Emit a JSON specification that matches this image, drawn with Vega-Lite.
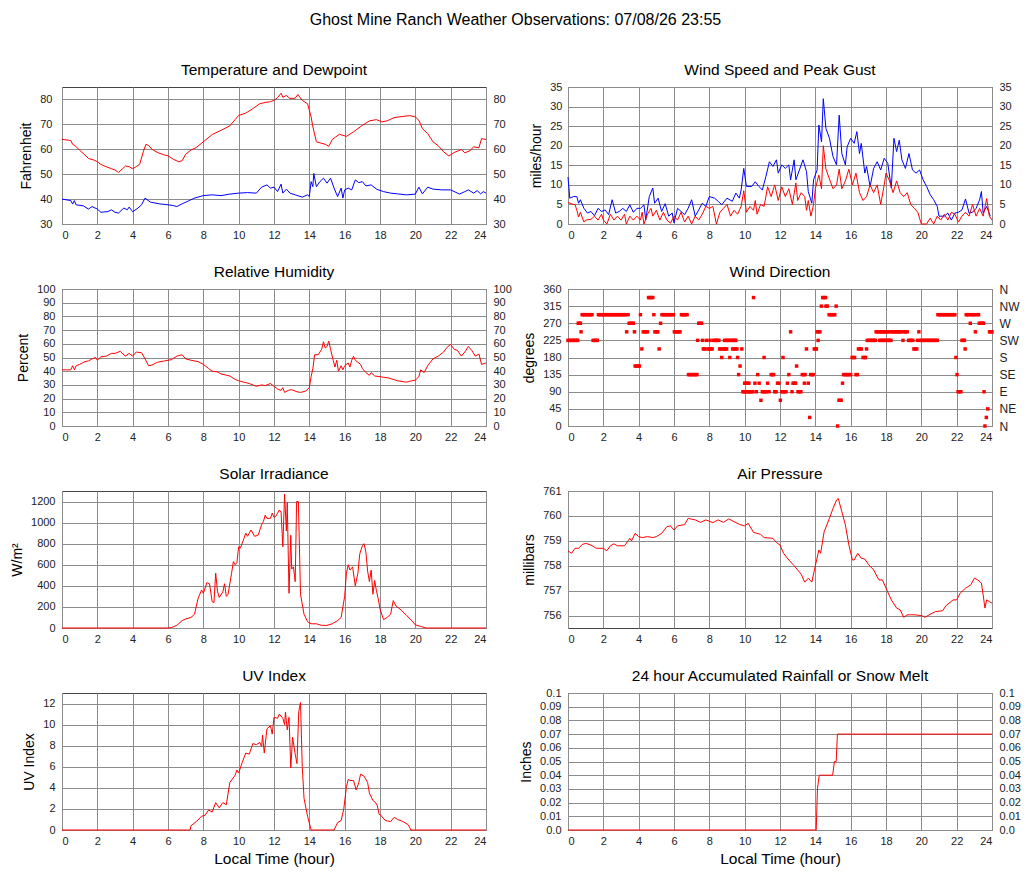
{
  "$schema": "https://vega.github.io/schema/vega-lite/v6.json",
  "background": "white",
  "padding": {"left": 10, "top": 12, "right": 10, "bottom": 8},
  "title": {"text": "Ghost Mine Ranch Weather Observations: 07/08/26 23:55", "fontSize": 16, "fontWeight": "normal", "anchor": "middle", "offset": 34, "color": "#000"},
  "datasets": {
    "temp": [
      {"t":0,"v":64},{"t":0.5,"v":63.5},{"t":0.6,"v":62},{"t":0.75,"v":61.4},{"t":1,"v":59.6},{"t":1.3,"v":57.7},{"t":1.5,"v":56.3},{"t":1.8,"v":55.7},{"t":2,"v":55},{"t":2.2,"v":53.9},{"t":2.5,"v":53},{"t":2.8,"v":52.2},{"t":3,"v":51.7},{"t":3.2,"v":50.7},{"t":3.4,"v":52},{"t":3.6,"v":53.3},{"t":3.8,"v":53},{"t":4,"v":52.2},{"t":4.2,"v":53},{"t":4.4,"v":54},{"t":4.6,"v":59},{"t":4.75,"v":62},{"t":4.9,"v":61.5},{"t":5.1,"v":60},{"t":5.4,"v":58.7},{"t":5.8,"v":57.7},{"t":6,"v":57.4},{"t":6.3,"v":56},{"t":6.6,"v":55},{"t":6.8,"v":55.4},{"t":7,"v":58},{"t":7.3,"v":59.7},{"t":7.6,"v":60.7},{"t":8,"v":63},{"t":8.5,"v":65.9},{"t":9,"v":67.6},{"t":9.5,"v":69.4},{"t":9.8,"v":71.9},{"t":10,"v":73.6},{"t":10.4,"v":74.5},{"t":10.8,"v":76.3},{"t":11.2,"v":78.3},{"t":11.5,"v":78.8},{"t":11.8,"v":79.1},{"t":12,"v":79.6},{"t":12.2,"v":80.7},{"t":12.4,"v":82.5},{"t":12.5,"v":80.9},{"t":12.7,"v":81.6},{"t":12.9,"v":80.4},{"t":13.2,"v":80.5},{"t":13.35,"v":82},{"t":13.6,"v":79.6},{"t":13.9,"v":78.3},{"t":14.1,"v":73},{"t":14.2,"v":69},{"t":14.4,"v":63},{"t":14.6,"v":62.6},{"t":14.9,"v":62},{"t":15.1,"v":61.2},{"t":15.3,"v":63.9},{"t":15.5,"v":65},{"t":15.7,"v":66},{"t":16.1,"v":65.2},{"t":16.5,"v":67},{"t":17,"v":69.6},{"t":17.4,"v":71.4},{"t":17.8,"v":71.9},{"t":18.1,"v":71},{"t":18.4,"v":71.4},{"t":18.8,"v":72.7},{"t":19.3,"v":73.2},{"t":19.7,"v":73.5},{"t":20,"v":73},{"t":20.2,"v":71.6},{"t":20.4,"v":68.3},{"t":20.7,"v":66.3},{"t":21,"v":63},{"t":21.3,"v":61.4},{"t":21.6,"v":59},{"t":21.9,"v":57.3},{"t":22.2,"v":58.7},{"t":22.6,"v":59.9},{"t":22.8,"v":58.6},{"t":23.1,"v":59.4},{"t":23.3,"v":61},{"t":23.6,"v":60.6},{"t":23.75,"v":64.3},{"t":24,"v":63.9}
    ],
    "dew": [
      {"t":0,"v":40},{"t":0.5,"v":39.4},{"t":0.6,"v":38},{"t":0.7,"v":39.4},{"t":0.8,"v":37.7},{"t":1.2,"v":37.3},{"t":1.5,"v":36},{"t":1.7,"v":37},{"t":2,"v":36},{"t":2.2,"v":34.7},{"t":2.6,"v":35},{"t":2.8,"v":35.7},{"t":3,"v":34.7},{"t":3.2,"v":34.4},{"t":3.5,"v":36.4},{"t":3.7,"v":35.7},{"t":3.8,"v":36.8},{"t":4,"v":34.9},{"t":4.3,"v":36.4},{"t":4.5,"v":37.7},{"t":4.7,"v":40.4},{"t":5,"v":38.8},{"t":5.5,"v":38.1},{"t":6,"v":37.7},{"t":6.3,"v":37.4},{"t":6.5,"v":37},{"t":6.8,"v":38.1},{"t":7.2,"v":39.4},{"t":7.5,"v":40.4},{"t":8,"v":41.4},{"t":8.5,"v":41.7},{"t":9,"v":41.4},{"t":9.5,"v":42},{"t":10,"v":42.4},{"t":10.5,"v":42.6},{"t":11,"v":42.4},{"t":11.3,"v":44.8},{"t":11.6,"v":45.7},{"t":11.8,"v":44.4},{"t":12,"v":44.8},{"t":12.2,"v":43},{"t":12.4,"v":46},{"t":12.5,"v":42.4},{"t":12.7,"v":44},{"t":12.9,"v":42.4},{"t":13.2,"v":41.7},{"t":13.6,"v":40.8},{"t":13.9,"v":41.7},{"t":14,"v":41},{"t":14.1,"v":47},{"t":14.2,"v":45},{"t":14.25,"v":50.3},{"t":14.4,"v":45},{"t":14.6,"v":47},{"t":14.8,"v":48.4},{"t":15,"v":46.4},{"t":15.2,"v":48.4},{"t":15.4,"v":44.4},{"t":15.6,"v":41},{"t":15.8,"v":44.4},{"t":15.9,"v":40.4},{"t":16,"v":43.7},{"t":16.2,"v":44.4},{"t":16.4,"v":43.7},{"t":16.6,"v":47.7},{"t":16.8,"v":46.6},{"t":17,"v":47},{"t":17.2,"v":45.3},{"t":17.5,"v":45.7},{"t":17.8,"v":44},{"t":18.2,"v":43},{"t":18.6,"v":42.4},{"t":19,"v":42.1},{"t":19.5,"v":41.7},{"t":20,"v":42},{"t":20.2,"v":44.8},{"t":20.4,"v":42.1},{"t":20.7,"v":44.8},{"t":21,"v":44},{"t":21.5,"v":43.7},{"t":22,"v":43.7},{"t":22.5,"v":42},{"t":22.8,"v":43},{"t":23,"v":43.7},{"t":23.3,"v":42.4},{"t":23.5,"v":43.4},{"t":23.7,"v":42.1},{"t":23.85,"v":43},{"t":24,"v":42.4}
    ],
    "gust": [
      {"t":0,"v":12},{"t":0.1,"v":6.6},{"t":0.3,"v":7},{"t":0.5,"v":7},{"t":0.6,"v":5.3},{"t":0.7,"v":6.2},{"t":0.9,"v":4},{"t":1.1,"v":2.8},{"t":1.3,"v":3.2},{"t":1.5,"v":2.1},{"t":1.7,"v":4},{"t":1.9,"v":3.2},{"t":2.1,"v":3.6},{"t":2.3,"v":2.4},{"t":2.5,"v":6.2},{"t":2.7,"v":2.8},{"t":2.9,"v":3.2},{"t":3.1,"v":4},{"t":3.3,"v":3.2},{"t":3.5,"v":4.9},{"t":3.7,"v":3},{"t":3.9,"v":4},{"t":4.1,"v":4},{"t":4.3,"v":4.9},{"t":4.4,"v":1},{"t":4.6,"v":7},{"t":4.8,"v":9.2},{"t":4.9,"v":5.3},{"t":5.1,"v":6.6},{"t":5.3,"v":3.2},{"t":5.5,"v":5.2},{"t":5.7,"v":2},{"t":5.9,"v":2.8},{"t":6,"v":0.3},{"t":6.2,"v":4},{"t":6.4,"v":3.2},{"t":6.6,"v":2.4},{"t":6.8,"v":4},{"t":7,"v":6.2},{"t":7.2,"v":2},{"t":7.4,"v":3.6},{"t":7.6,"v":5.3},{"t":7.8,"v":4.5},{"t":8,"v":7},{"t":8.3,"v":6.6},{"t":8.5,"v":5.8},{"t":8.7,"v":4.9},{"t":9,"v":6.6},{"t":9.3,"v":5.8},{"t":9.5,"v":7.9},{"t":9.7,"v":6.6},{"t":9.8,"v":8.7},{"t":9.95,"v":14.2},{"t":10.1,"v":9.6},{"t":10.4,"v":9.6},{"t":10.6,"v":10.8},{"t":10.8,"v":9.6},{"t":11,"v":8.7},{"t":11.2,"v":12.1},{"t":11.4,"v":15.9},{"t":11.6,"v":14.7},{"t":11.8,"v":16.4},{"t":11.9,"v":13},{"t":12.1,"v":15.1},{"t":12.3,"v":14.2},{"t":12.5,"v":15.1},{"t":12.6,"v":11.3},{"t":12.8,"v":16.4},{"t":12.9,"v":11.3},{"t":13.1,"v":13.8},{"t":13.3,"v":16.4},{"t":13.5,"v":13.4},{"t":13.6,"v":8.3},{"t":13.8,"v":5.3},{"t":13.9,"v":11.3},{"t":14.1,"v":13.8},{"t":14.2,"v":25.3},{"t":14.35,"v":21},{"t":14.45,"v":32},{"t":14.6,"v":24.4},{"t":14.8,"v":21.9},{"t":15,"v":17.2},{"t":15.2,"v":15.1},{"t":15.35,"v":27.8},{"t":15.5,"v":18},{"t":15.7,"v":15.1},{"t":15.8,"v":19.7},{"t":16,"v":21.9},{"t":16.2,"v":20.6},{"t":16.35,"v":23.6},{"t":16.5,"v":18},{"t":16.6,"v":20.6},{"t":16.8,"v":13},{"t":16.9,"v":14.7},{"t":17.1,"v":9.6},{"t":17.3,"v":14.2},{"t":17.5,"v":15.9},{"t":17.7,"v":13.8},{"t":17.9,"v":16.8},{"t":18.1,"v":15.5},{"t":18.3,"v":9.2},{"t":18.45,"v":21.9},{"t":18.6,"v":18.5},{"t":18.75,"v":21.4},{"t":18.9,"v":16.4},{"t":19.1,"v":14.2},{"t":19.3,"v":18},{"t":19.5,"v":13.8},{"t":19.7,"v":13},{"t":19.9,"v":13.8},{"t":20.1,"v":11.3},{"t":20.3,"v":9.6},{"t":20.5,"v":7.5},{"t":20.7,"v":6.2},{"t":20.9,"v":4.5},{"t":21,"v":2},{"t":21.3,"v":2},{"t":21.5,"v":2.8},{"t":21.7,"v":1},{"t":21.9,"v":2.8},{"t":22.1,"v":3},{"t":22.3,"v":3.6},{"t":22.5,"v":6.4},{"t":22.7,"v":2.8},{"t":22.9,"v":3},{"t":23.1,"v":4},{"t":23.3,"v":6.2},{"t":23.4,"v":8.3},{"t":23.5,"v":2.8},{"t":23.7,"v":4.5},{"t":23.9,"v":2}
    ],
    "speed": [
      {"t":0,"v":5.5},{"t":0.3,"v":5},{"t":0.4,"v":5},{"t":0.5,"v":3.5},{"t":0.6,"v":1.8},{"t":0.7,"v":3},{"t":0.9,"v":0.5},{"t":1,"v":1},{"t":1.3,"v":1.2},{"t":1.5,"v":2},{"t":1.7,"v":1},{"t":1.9,"v":2.5},{"t":2,"v":1},{"t":2.2,"v":0},{"t":2.4,"v":2.5},{"t":2.6,"v":1},{"t":2.8,"v":2},{"t":3,"v":1},{"t":3.2,"v":2.5},{"t":3.3,"v":0},{"t":3.5,"v":2},{"t":3.7,"v":1},{"t":3.9,"v":2},{"t":4.1,"v":1},{"t":4.2,"v":3},{"t":4.3,"v":0},{"t":4.5,"v":2.5},{"t":4.7,"v":4},{"t":4.8,"v":2},{"t":5,"v":3.5},{"t":5.2,"v":1},{"t":5.4,"v":3},{"t":5.6,"v":1},{"t":5.8,"v":0.2},{"t":6,"v":2},{"t":6.2,"v":1},{"t":6.4,"v":3},{"t":6.6,"v":0.5},{"t":6.8,"v":2},{"t":7,"v":0},{"t":7.2,"v":2},{"t":7.4,"v":1},{"t":7.6,"v":2.5},{"t":7.8,"v":4.5},{"t":8,"v":4},{"t":8.2,"v":4.5},{"t":8.4,"v":0},{"t":8.6,"v":3},{"t":8.8,"v":4},{"t":9,"v":5},{"t":9.2,"v":2},{"t":9.4,"v":3.5},{"t":9.6,"v":2.5},{"t":9.8,"v":4.5},{"t":9.95,"v":8.5},{"t":10.1,"v":3},{"t":10.3,"v":4.5},{"t":10.5,"v":3.5},{"t":10.6,"v":6},{"t":10.7,"v":2.5},{"t":10.9,"v":5},{"t":11.1,"v":4.5},{"t":11.3,"v":9.5},{"t":11.5,"v":7},{"t":11.7,"v":10},{"t":11.9,"v":6},{"t":12.1,"v":9.5},{"t":12.3,"v":7},{"t":12.5,"v":9},{"t":12.7,"v":5},{"t":12.9,"v":10.5},{"t":13,"v":6},{"t":13.2,"v":8},{"t":13.4,"v":7},{"t":13.5,"v":3.5},{"t":13.6,"v":6},{"t":13.75,"v":2},{"t":13.9,"v":5},{"t":14,"v":9},{"t":14.2,"v":12.5},{"t":14.35,"v":9},{"t":14.45,"v":20},{"t":14.6,"v":14},{"t":14.8,"v":11.5},{"t":15,"v":9},{"t":15.2,"v":10},{"t":15.35,"v":14},{"t":15.5,"v":9},{"t":15.7,"v":11},{"t":15.9,"v":14},{"t":16.1,"v":10},{"t":16.3,"v":13},{"t":16.5,"v":8},{"t":16.7,"v":6},{"t":16.9,"v":7},{"t":17.1,"v":10},{"t":17.3,"v":8},{"t":17.5,"v":10},{"t":17.7,"v":5},{"t":17.9,"v":10},{"t":18,"v":13},{"t":18.2,"v":11},{"t":18.4,"v":8},{"t":18.6,"v":11},{"t":18.8,"v":8},{"t":19,"v":7},{"t":19.2,"v":8},{"t":19.4,"v":5},{"t":19.6,"v":4},{"t":19.8,"v":3},{"t":20,"v":0},{"t":20.3,"v":0},{"t":20.5,"v":1.5},{"t":20.7,"v":0},{"t":20.9,"v":2},{"t":21.1,"v":1},{"t":21.3,"v":2.5},{"t":21.5,"v":1},{"t":21.7,"v":3},{"t":21.9,"v":2.5},{"t":22.1,"v":0.5},{"t":22.3,"v":2},{"t":22.5,"v":3},{"t":22.7,"v":2},{"t":22.9,"v":5},{"t":23.1,"v":2},{"t":23.3,"v":4},{"t":23.5,"v":2},{"t":23.7,"v":6.5},{"t":23.85,"v":2},{"t":24,"v":1}
    ],
    "rh": [
      {"t":0,"v":41},{"t":0.5,"v":41},{"t":0.6,"v":44},{"t":0.7,"v":41},{"t":0.8,"v":44},{"t":1,"v":45},{"t":1.3,"v":47},{"t":1.5,"v":47.5},{"t":1.7,"v":49},{"t":1.9,"v":50},{"t":2,"v":48},{"t":2.2,"v":50.5},{"t":2.5,"v":51},{"t":2.8,"v":53},{"t":3,"v":53},{"t":3.3,"v":54.5},{"t":3.5,"v":52},{"t":3.6,"v":51},{"t":3.8,"v":53},{"t":4,"v":51},{"t":4.2,"v":54},{"t":4.5,"v":53.5},{"t":4.7,"v":49},{"t":4.9,"v":44},{"t":5.1,"v":44.5},{"t":5.4,"v":46.5},{"t":5.8,"v":47.5},{"t":6.2,"v":48.5},{"t":6.5,"v":51},{"t":6.8,"v":52},{"t":7,"v":49},{"t":7.3,"v":48},{"t":7.7,"v":47},{"t":8,"v":45},{"t":8.3,"v":42},{"t":8.5,"v":40},{"t":8.8,"v":39.5},{"t":9,"v":38},{"t":9.5,"v":36.5},{"t":9.8,"v":34},{"t":10,"v":33},{"t":10.3,"v":32},{"t":10.6,"v":31},{"t":11,"v":29},{"t":11.3,"v":30},{"t":11.5,"v":29.5},{"t":11.8,"v":31},{"t":12,"v":29},{"t":12.2,"v":27},{"t":12.4,"v":26},{"t":12.5,"v":28},{"t":12.6,"v":24.5},{"t":12.8,"v":26},{"t":13,"v":26.5},{"t":13.3,"v":25},{"t":13.5,"v":24.5},{"t":13.8,"v":25.5},{"t":14,"v":28},{"t":14.1,"v":36},{"t":14.2,"v":42},{"t":14.3,"v":52},{"t":14.5,"v":52},{"t":14.7,"v":56},{"t":14.8,"v":61.5},{"t":14.9,"v":57},{"t":15,"v":58},{"t":15.1,"v":62},{"t":15.2,"v":56},{"t":15.35,"v":48},{"t":15.45,"v":43},{"t":15.55,"v":48},{"t":15.65,"v":40},{"t":15.8,"v":44},{"t":15.9,"v":41},{"t":16,"v":44},{"t":16.2,"v":46},{"t":16.3,"v":43},{"t":16.4,"v":48},{"t":16.5,"v":51},{"t":16.6,"v":48},{"t":16.9,"v":45},{"t":17,"v":42},{"t":17.2,"v":39},{"t":17.4,"v":37},{"t":17.5,"v":39},{"t":17.7,"v":36.5},{"t":18,"v":36},{"t":18.5,"v":35},{"t":19,"v":33},{"t":19.5,"v":32},{"t":19.8,"v":33},{"t":20,"v":33.5},{"t":20.2,"v":36},{"t":20.3,"v":41},{"t":20.5,"v":39},{"t":20.7,"v":44},{"t":21,"v":49},{"t":21.3,"v":51},{"t":21.6,"v":54},{"t":21.8,"v":57.5},{"t":22,"v":59.5},{"t":22.2,"v":56},{"t":22.4,"v":55},{"t":22.6,"v":51},{"t":22.8,"v":54},{"t":23,"v":58},{"t":23.2,"v":55},{"t":23.4,"v":51},{"t":23.6,"v":52.5},{"t":23.75,"v":45},{"t":24,"v":46}
    ],
    "dir": [
      {"t":0,"d":225},{"t":0.08,"d":225},{"t":0.16,"d":225},{"t":0.24,"d":225},{"t":0.32,"d":225},{"t":0.4,"d":225},{"t":0.48,"d":225},{"t":0.55,"d":225},
      {"t":0.58,"d":270},{"t":0.64,"d":270},{"t":0.7,"d":270},{"t":0.74,"d":247.5},
      {"t":0.8,"d":292.5},{"t":0.88,"d":292.5},{"t":0.96,"d":292.5},{"t":1.04,"d":292.5},{"t":1.12,"d":292.5},{"t":1.2,"d":292.5},{"t":1.28,"d":292.5},{"t":1.36,"d":292.5},
      {"t":1.42,"d":225},{"t":1.5,"d":225},{"t":1.58,"d":225},{"t":1.66,"d":225},
      {"t":1.72,"d":292.5},{"t":1.8,"d":292.5},{"t":1.88,"d":292.5},{"t":1.96,"d":292.5},{"t":2.04,"d":292.5},{"t":2.12,"d":292.5},{"t":2.2,"d":292.5},{"t":2.28,"d":292.5},{"t":2.36,"d":292.5},{"t":2.44,"d":292.5},{"t":2.52,"d":292.5},{"t":2.6,"d":292.5},{"t":2.68,"d":292.5},{"t":2.76,"d":292.5},{"t":2.84,"d":292.5},{"t":2.92,"d":292.5},{"t":3,"d":292.5},{"t":3.08,"d":292.5},{"t":3.16,"d":292.5},{"t":3.24,"d":292.5},{"t":3.4,"d":292.5},
      {"t":3.32,"d":247.5},{"t":3.46,"d":270},{"t":3.54,"d":270},{"t":3.62,"d":270},{"t":3.7,"d":270},{"t":3.76,"d":247.5},
      {"t":3.8,"d":157.5},{"t":3.88,"d":157.5},{"t":3.96,"d":157.5},{"t":4.04,"d":157.5},{"t":4.1,"d":292.5},{"t":4.18,"d":202.5},
      {"t":4.26,"d":247.5},{"t":4.34,"d":247.5},{"t":4.42,"d":247.5},{"t":4.5,"d":247.5},
      {"t":4.56,"d":337.5},{"t":4.64,"d":337.5},{"t":4.72,"d":337.5},{"t":4.8,"d":337.5},{"t":4.86,"d":292.5},
      {"t":4.92,"d":247.5},{"t":5,"d":247.5},{"t":5.08,"d":247.5},{"t":5.16,"d":202.5},{"t":5.24,"d":270},
      {"t":5.32,"d":292.5},{"t":5.4,"d":292.5},{"t":5.48,"d":292.5},{"t":5.56,"d":292.5},{"t":5.64,"d":292.5},{"t":5.72,"d":292.5},{"t":5.8,"d":292.5},{"t":5.88,"d":292.5},{"t":5.96,"d":292.5},
      {"t":6.02,"d":247.5},{"t":6.1,"d":247.5},{"t":6.18,"d":247.5},{"t":6.26,"d":247.5},{"t":6.34,"d":247.5},
      {"t":6.42,"d":292.5},{"t":6.5,"d":292.5},{"t":6.58,"d":292.5},{"t":6.66,"d":292.5},{"t":6.74,"d":292.5},
      {"t":6.82,"d":135},{"t":6.9,"d":135},{"t":6.98,"d":135},{"t":7.06,"d":135},{"t":7.14,"d":135},{"t":7.22,"d":135},{"t":7.3,"d":135},
      {"t":7.34,"d":225},{"t":7.4,"d":270},{"t":7.48,"d":270},{"t":7.56,"d":270},{"t":7.62,"d":225},
      {"t":7.66,"d":202.5},{"t":7.74,"d":202.5},{"t":7.84,"d":225},{"t":7.92,"d":202.5},{"t":8,"d":202.5},{"t":8.08,"d":202.5},{"t":8.16,"d":202.5},
      {"t":8.04,"d":225},{"t":8.24,"d":225},{"t":8.32,"d":225},{"t":8.4,"d":225},{"t":8.48,"d":225},{"t":8.54,"d":225},
      {"t":8.58,"d":202.5},{"t":8.64,"d":202.5},{"t":8.7,"d":180},{"t":8.76,"d":202.5},{"t":8.84,"d":202.5},{"t":8.92,"d":202.5},{"t":8.98,"d":202.5},
      {"t":8.86,"d":225},{"t":8.94,"d":225},{"t":9.02,"d":225},{"t":9.1,"d":225},{"t":9.2,"d":225},{"t":9.28,"d":225},{"t":9.36,"d":225},{"t":9.44,"d":225},{"t":9.5,"d":225},
      {"t":9.16,"d":180},{"t":9.32,"d":202.5},{"t":9.4,"d":202.5},{"t":9.48,"d":202.5},{"t":9.56,"d":202.5},{"t":9.6,"d":180},{"t":9.66,"d":135},{"t":9.74,"d":157.5},{"t":9.84,"d":202.5},
      {"t":9.9,"d":90},{"t":9.98,"d":90},{"t":10.06,"d":90},{"t":10.14,"d":90},{"t":10.22,"d":90},{"t":10.3,"d":90},{"t":10.38,"d":90},{"t":10.46,"d":90},
      {"t":10,"d":112.5},{"t":10.08,"d":112.5},{"t":10.16,"d":112.5},{"t":10.24,"d":112.5},
      {"t":10.5,"d":337.5},{"t":10.58,"d":112.5},{"t":10.66,"d":90},{"t":10.74,"d":135},{"t":10.82,"d":112.5},{"t":10.92,"d":67.5},
      {"t":11,"d":90},{"t":11.08,"d":90},{"t":11.16,"d":90},{"t":11.22,"d":90},{"t":11.1,"d":180},{"t":11.3,"d":112.5},{"t":11.38,"d":90},
      {"t":11.5,"d":135},{"t":11.58,"d":135},{"t":11.64,"d":135},{"t":11.7,"d":90},{"t":11.78,"d":90},{"t":11.86,"d":112.5},{"t":11.94,"d":112.5},{"t":12.02,"d":67.5},
      {"t":12.1,"d":90},{"t":12.18,"d":90},{"t":12.26,"d":90},{"t":12.34,"d":90},{"t":12.17,"d":180},{"t":12.42,"d":112.5},{"t":12.5,"d":135},{"t":12.6,"d":247.5},{"t":12.68,"d":90},
      {"t":12.74,"d":112.5},{"t":12.82,"d":112.5},{"t":12.88,"d":112.5},{"t":12.94,"d":157.5},{"t":13.02,"d":90},{"t":13.1,"d":90},{"t":13.18,"d":90},
      {"t":13.26,"d":135},{"t":13.34,"d":135},{"t":13.42,"d":135},{"t":13.38,"d":112.5},{"t":13.5,"d":202.5},{"t":13.6,"d":112.5},{"t":13.68,"d":22.5},
      {"t":13.74,"d":135},{"t":13.82,"d":135},{"t":13.88,"d":135},{"t":13.94,"d":202.5},{"t":14.02,"d":202.5},{"t":14.06,"d":202.5},
      {"t":14.1,"d":247.5},{"t":14.18,"d":247.5},{"t":14.26,"d":247.5},{"t":14.16,"d":225},{"t":14.34,"d":315},
      {"t":14.42,"d":337.5},{"t":14.5,"d":337.5},{"t":14.58,"d":337.5},{"t":14.6,"d":315},{"t":14.68,"d":315},
      {"t":14.78,"d":292.5},{"t":14.86,"d":292.5},{"t":14.94,"d":292.5},{"t":15.02,"d":292.5},{"t":15.1,"d":292.5},{"t":15.18,"d":315},{"t":15.26,"d":0},
      {"t":15.34,"d":67.5},{"t":15.4,"d":67.5},{"t":15.46,"d":67.5},{"t":15.54,"d":112.5},
      {"t":15.6,"d":135},{"t":15.68,"d":135},{"t":15.76,"d":135},{"t":15.84,"d":135},{"t":15.92,"d":135},{"t":16,"d":135},
      {"t":16.08,"d":180},{"t":16.16,"d":180},{"t":16.22,"d":180},{"t":16.3,"d":135},{"t":16.38,"d":135},
      {"t":16.44,"d":202.5},{"t":16.52,"d":202.5},{"t":16.6,"d":202.5},{"t":16.7,"d":180},{"t":16.78,"d":180},{"t":16.84,"d":180},{"t":16.9,"d":202.5},
      {"t":16.94,"d":225},{"t":17.02,"d":225},{"t":17.1,"d":225},{"t":17.18,"d":225},{"t":17.26,"d":225},{"t":17.34,"d":225},{"t":17.4,"d":225},
      {"t":17.44,"d":247.5},{"t":17.52,"d":247.5},{"t":17.6,"d":247.5},{"t":17.68,"d":247.5},{"t":17.76,"d":247.5},{"t":17.84,"d":247.5},{"t":17.92,"d":247.5},{"t":18,"d":247.5},{"t":18.08,"d":247.5},{"t":18.16,"d":247.5},
      {"t":17.64,"d":225},{"t":17.72,"d":225},{"t":17.8,"d":225},{"t":17.88,"d":225},{"t":17.96,"d":225},{"t":18.04,"d":225},{"t":18.12,"d":225},{"t":18.2,"d":225},{"t":18.28,"d":225},
      {"t":18.32,"d":247.5},{"t":18.4,"d":247.5},{"t":18.48,"d":247.5},{"t":18.56,"d":247.5},{"t":18.64,"d":247.5},{"t":18.72,"d":247.5},{"t":18.8,"d":247.5},{"t":18.88,"d":247.5},{"t":19.04,"d":247.5},{"t":19.12,"d":247.5},{"t":19.2,"d":247.5},
      {"t":18.96,"d":225},{"t":19.28,"d":225},{"t":19.36,"d":225},{"t":19.44,"d":225},{"t":19.52,"d":225},
      {"t":19.58,"d":202.5},{"t":19.66,"d":202.5},{"t":19.74,"d":202.5},{"t":19.86,"d":247.5},
      {"t":19.78,"d":225},{"t":19.94,"d":225},{"t":20.02,"d":225},{"t":20.1,"d":225},{"t":20.18,"d":225},{"t":20.26,"d":225},{"t":20.34,"d":225},{"t":20.42,"d":225},{"t":20.5,"d":225},{"t":20.58,"d":225},{"t":20.66,"d":225},{"t":20.74,"d":225},{"t":20.82,"d":225},{"t":20.9,"d":225},
      {"t":20.94,"d":292.5},{"t":21.02,"d":292.5},{"t":21.1,"d":292.5},{"t":21.18,"d":292.5},{"t":21.26,"d":292.5},{"t":21.34,"d":292.5},{"t":21.42,"d":292.5},{"t":21.5,"d":292.5},{"t":21.58,"d":292.5},{"t":21.66,"d":292.5},{"t":21.74,"d":292.5},{"t":21.82,"d":292.5},{"t":21.9,"d":292.5},
      {"t":21.96,"d":180},{"t":22.02,"d":135},{"t":22.08,"d":90},{"t":22.16,"d":90},{"t":22.24,"d":90},{"t":22.3,"d":225},{"t":22.38,"d":225},{"t":22.44,"d":225},{"t":22.48,"d":202.5},
      {"t":22.54,"d":292.5},{"t":22.62,"d":292.5},{"t":22.7,"d":292.5},{"t":22.84,"d":292.5},{"t":22.92,"d":292.5},{"t":23,"d":292.5},{"t":23.16,"d":292.5},{"t":23.24,"d":292.5},
      {"t":22.77,"d":270},{"t":23.06,"d":247.5},{"t":23.28,"d":270},{"t":23.36,"d":270},{"t":23.44,"d":270},{"t":23.52,"d":270},
      {"t":23.55,"d":90},{"t":23.6,"d":0},{"t":23.68,"d":22.5},{"t":23.76,"d":45},{"t":23.86,"d":247.5},{"t":23.94,"d":247.5},{"t":24,"d":247.5}
    ],
    "solar": [
      {"t":0,"v":0},{"t":6,"v":0},{"t":6.2,"v":5},{"t":6.5,"v":25},{"t":6.8,"v":70},{"t":7,"v":85},{"t":7.3,"v":100},{"t":7.5,"v":130},{"t":7.7,"v":280},{"t":7.9,"v":360},{"t":8,"v":330},{"t":8.1,"v":380},{"t":8.2,"v":430},{"t":8.35,"v":420},{"t":8.5,"v":250},{"t":8.6,"v":240},{"t":8.7,"v":520},{"t":8.8,"v":350},{"t":8.9,"v":290},{"t":9.1,"v":340},{"t":9.2,"v":420},{"t":9.3,"v":300},{"t":9.4,"v":320},{"t":9.6,"v":520},{"t":9.7,"v":630},{"t":9.8,"v":600},{"t":9.9,"v":620},{"t":10,"v":770},{"t":10.1,"v":760},{"t":10.3,"v":850},{"t":10.4,"v":900},{"t":10.5,"v":870},{"t":10.7,"v":930},{"t":10.9,"v":870},{"t":11.1,"v":880},{"t":11.3,"v":980},{"t":11.4,"v":1010},{"t":11.5,"v":1070},{"t":11.6,"v":1040},{"t":11.8,"v":1040},{"t":11.9,"v":1090},{"t":12,"v":1050},{"t":12.1,"v":1060},{"t":12.3,"v":1120},{"t":12.4,"v":1100},{"t":12.5,"v":770},{"t":12.6,"v":1270},{"t":12.7,"v":920},{"t":12.75,"v":1190},{"t":12.85,"v":330},{"t":12.95,"v":880},{"t":13,"v":560},{"t":13.1,"v":580},{"t":13.2,"v":440},{"t":13.28,"v":1200},{"t":13.38,"v":1200},{"t":13.5,"v":320},{"t":13.7,"v":130},{"t":13.9,"v":60},{"t":14.1,"v":40},{"t":14.4,"v":40},{"t":14.7,"v":25},{"t":15,"v":25},{"t":15.3,"v":40},{"t":15.6,"v":70},{"t":15.8,"v":100},{"t":16,"v":300},{"t":16.1,"v":520},{"t":16.2,"v":600},{"t":16.3,"v":550},{"t":16.45,"v":580},{"t":16.6,"v":400},{"t":16.75,"v":520},{"t":16.85,"v":700},{"t":17,"v":780},{"t":17.1,"v":800},{"t":17.2,"v":720},{"t":17.3,"v":540},{"t":17.4,"v":440},{"t":17.5,"v":550},{"t":17.6,"v":320},{"t":17.7,"v":450},{"t":17.8,"v":350},{"t":17.9,"v":280},{"t":18,"v":180},{"t":18.2,"v":80},{"t":18.4,"v":100},{"t":18.6,"v":130},{"t":18.75,"v":260},{"t":18.9,"v":210},{"t":19.2,"v":170},{"t":19.5,"v":120},{"t":19.8,"v":70},{"t":20,"v":30},{"t":20.3,"v":15},{"t":20.6,"v":0},{"t":24,"v":0}
    ],
    "press": [
      {"t":0,"v":758.6},{"t":0.2,"v":758.5},{"t":0.4,"v":758.7},{"t":0.6,"v":758.7},{"t":0.8,"v":758.85},{"t":1,"v":758.9},{"t":1.3,"v":758.83},{"t":1.6,"v":758.7},{"t":2,"v":758.7},{"t":2.2,"v":758.6},{"t":2.4,"v":758.8},{"t":2.6,"v":758.88},{"t":2.8,"v":758.8},{"t":3.2,"v":758.8},{"t":3.4,"v":759},{"t":3.5,"v":759.1},{"t":3.6,"v":759},{"t":3.8,"v":759.3},{"t":4,"v":759.17},{"t":4.2,"v":759.13},{"t":4.5,"v":759.17},{"t":4.8,"v":759.13},{"t":5,"v":759.17},{"t":5.3,"v":759.3},{"t":5.6,"v":759.57},{"t":5.8,"v":759.6},{"t":6,"v":759.43},{"t":6.2,"v":759.6},{"t":6.6,"v":759.65},{"t":6.8,"v":759.9},{"t":7.2,"v":759.84},{"t":7.5,"v":759.74},{"t":7.8,"v":759.84},{"t":8.2,"v":759.73},{"t":8.5,"v":759.84},{"t":8.8,"v":759.74},{"t":9.1,"v":759.88},{"t":9.4,"v":759.77},{"t":9.7,"v":759.66},{"t":10,"v":759.6},{"t":10.2,"v":759.7},{"t":10.5,"v":759.34},{"t":10.9,"v":759.26},{"t":11.1,"v":759.13},{"t":11.6,"v":759.1},{"t":11.8,"v":758.93},{"t":12,"v":758.83},{"t":12.2,"v":758.5},{"t":12.5,"v":758.23},{"t":12.8,"v":758},{"t":13,"v":757.83},{"t":13.2,"v":757.66},{"t":13.4,"v":757.34},{"t":13.6,"v":757.5},{"t":13.8,"v":757.34},{"t":14,"v":758},{"t":14.2,"v":758.63},{"t":14.3,"v":758.5},{"t":14.5,"v":759.37},{"t":14.8,"v":759.9},{"t":15,"v":760.3},{"t":15.2,"v":760.64},{"t":15.3,"v":760.7},{"t":15.5,"v":760.17},{"t":15.7,"v":759.64},{"t":15.9,"v":758.83},{"t":16.1,"v":758.23},{"t":16.2,"v":758.23},{"t":16.4,"v":758.5},{"t":16.6,"v":758.3},{"t":16.8,"v":758.27},{"t":17,"v":758.06},{"t":17.3,"v":757.83},{"t":17.6,"v":757.43},{"t":17.8,"v":757.43},{"t":18,"v":757.1},{"t":18.3,"v":756.63},{"t":18.6,"v":756.3},{"t":18.8,"v":756.23},{"t":19,"v":755.93},{"t":19.2,"v":756.03},{"t":19.6,"v":756.03},{"t":20,"v":756},{"t":20.2,"v":755.93},{"t":20.5,"v":756.05},{"t":20.8,"v":756.16},{"t":21.2,"v":756.19},{"t":21.4,"v":756.4},{"t":21.8,"v":756.63},{"t":22,"v":756.63},{"t":22.2,"v":756.9},{"t":22.5,"v":757.1},{"t":22.8,"v":757.23},{"t":23,"v":757.5},{"t":23.2,"v":757.43},{"t":23.4,"v":757.3},{"t":23.5,"v":756.83},{"t":23.6,"v":756.3},{"t":23.7,"v":756.63},{"t":23.85,"v":756.56},{"t":24,"v":756.5}
    ],
    "uv": [
      {"t":0,"v":0},{"t":7.25,"v":0},{"t":7.3,"v":0.4},{"t":7.6,"v":0.8},{"t":7.9,"v":1.3},{"t":8.1,"v":1.4},{"t":8.3,"v":1.9},{"t":8.5,"v":1.7},{"t":8.7,"v":2.6},{"t":8.9,"v":2.1},{"t":9.1,"v":2.6},{"t":9.3,"v":2.4},{"t":9.5,"v":4.5},{"t":9.8,"v":5.2},{"t":9.9,"v":5.7},{"t":10,"v":5.4},{"t":10.2,"v":6.4},{"t":10.4,"v":7.3},{"t":10.6,"v":7.2},{"t":10.8,"v":8.2},{"t":11,"v":8.1},{"t":11.2,"v":8.3},{"t":11.3,"v":7.9},{"t":11.35,"v":9},{"t":11.45,"v":7.3},{"t":11.6,"v":9.6},{"t":11.8,"v":9.9},{"t":11.9,"v":9.1},{"t":12,"v":10.7},{"t":12.2,"v":10.6},{"t":12.3,"v":11},{"t":12.5,"v":10.6},{"t":12.6,"v":10},{"t":12.65,"v":11.2},{"t":12.75,"v":9.5},{"t":12.85,"v":10.7},{"t":12.95,"v":5.9},{"t":13.05,"v":8.8},{"t":13.2,"v":7.2},{"t":13.3,"v":6.3},{"t":13.4,"v":11.2},{"t":13.5,"v":12.1},{"t":13.6,"v":6},{"t":13.7,"v":3},{"t":13.9,"v":1.3},{"t":14.1,"v":0},{"t":15.4,"v":0},{"t":15.6,"v":0.7},{"t":15.8,"v":0.9},{"t":15.95,"v":2},{"t":16.1,"v":4.1},{"t":16.2,"v":4.8},{"t":16.3,"v":4.7},{"t":16.5,"v":4.7},{"t":16.65,"v":3.8},{"t":16.8,"v":4.5},{"t":16.9,"v":5.3},{"t":17.1,"v":5.1},{"t":17.3,"v":4.5},{"t":17.4,"v":3.5},{"t":17.6,"v":2.8},{"t":17.75,"v":2.6},{"t":17.85,"v":2.3},{"t":17.95,"v":1.5},{"t":18.1,"v":1.3},{"t":18.3,"v":0.9},{"t":18.6,"v":0.8},{"t":18.8,"v":1.2},{"t":19,"v":1},{"t":19.3,"v":0.8},{"t":19.6,"v":0.5},{"t":19.75,"v":0},{"t":24,"v":0}
    ],
    "rain": [
      {"t":0,"v":0},{"t":14.05,"v":0},{"t":14.12,"v":0.03},{"t":14.22,"v":0.04},{"t":14.98,"v":0.04},{"t":15.08,"v":0.05},{"t":15.18,"v":0.05},{"t":15.25,"v":0.07},{"t":24,"v":0.07}
    ]
  },
  "columns": 2,
  "align": "all",
  "bounds": "flush",
  "spacing": {"row": 65, "column": 82},
  "concat": [
    {
      "title": {"text": "Temperature and Dewpoint", "offset": 9},
      "width": 424, "height": 137,
      "encoding": {"x": {"field": "t", "type": "quantitative", "scale": {"domain": [0, 24], "nice": false}, "axis": {"title": null, "values": [0,2,4,6,8,10,12,14,16,18,20,22,24]}}},
      "layer": [
        {"data": {"name": "temp"}, "mark": {"type": "line", "color": "#ff0000", "strokeWidth": 1},
         "encoding": {"y": {"field": "v", "type": "quantitative", "scale": {"domain": [30, 85], "nice": false}, "axis": {"title": "Fahrenheit", "values": [30,40,50,60,70,80], "labelPadding": 10}}}},
        {"data": {"name": "dew"}, "mark": {"type": "line", "color": "#0000ff", "strokeWidth": 1},
         "encoding": {"y": {"field": "v", "type": "quantitative", "axis": {"orient": "right", "title": null, "grid": false, "values": [30,40,50,60,70,80]}}}}
      ],
      "resolve": {"axis": {"y": "independent"}}
    },
    {
      "title": {"text": "Wind Speed and Peak Gust", "offset": 3},
      "width": 424, "height": 137,
      "encoding": {"x": {"field": "t", "type": "quantitative", "scale": {"domain": [0, 24], "nice": false}, "axis": {"title": null, "values": [0,2,4,6,8,10,12,14,16,18,20,22,24]}}},
      "layer": [
        {"data": {"name": "gust"}, "mark": {"type": "line", "color": "#0000ff", "strokeWidth": 1},
         "encoding": {"y": {"field": "v", "type": "quantitative", "scale": {"domain": [0, 35], "nice": false}, "axis": {"title": "miles/hour", "values": [0,5,10,15,20,25,30,35], "labelPadding": 6}}}},
        {"data": {"name": "speed"}, "mark": {"type": "line", "color": "#ff0000", "strokeWidth": 1},
         "encoding": {"y": {"field": "v", "type": "quantitative", "axis": {"orient": "right", "title": null, "grid": false, "values": [0,5,10,15,20,25,30,35]}}}}
      ],
      "resolve": {"axis": {"y": "independent"}}
    },
    {
      "title": {"text": "Relative Humidity", "offset": 3},
      "width": 424, "height": 137,
      "encoding": {"x": {"field": "t", "type": "quantitative", "scale": {"domain": [0, 24], "nice": false}, "axis": {"title": null, "values": [0,2,4,6,8,10,12,14,16,18,20,22,24]}}},
      "layer": [
        {"data": {"name": "rh"}, "mark": {"type": "line", "color": "#ff0000", "strokeWidth": 1},
         "encoding": {"y": {"field": "v", "type": "quantitative", "scale": {"domain": [0, 100], "nice": false}, "axis": {"title": "Percent", "values": [0,10,20,30,40,50,60,70,80,90,100]}}}},
        {"data": {"name": "rh"}, "mark": {"type": "line", "color": "#ff0000", "strokeWidth": 1, "strokeOpacity": 0},
         "encoding": {"y": {"field": "v", "type": "quantitative", "axis": {"orient": "right", "title": null, "grid": false, "values": [0,10,20,30,40,50,60,70,80,90,100]}}}}
      ],
      "resolve": {"axis": {"y": "independent"}}
    },
    {
      "title": {"text": "Wind Direction", "offset": 3},
      "width": 424, "height": 137,
      "encoding": {"x": {"field": "t", "type": "quantitative", "scale": {"domain": [0, 24], "nice": false}, "axis": {"title": null, "values": [0,2,4,6,8,10,12,14,16,18,20,22,24]}}},
      "layer": [
        {"data": {"name": "dir"}, "mark": {"type": "square", "color": "#ff0000", "filled": true, "opacity": 1, "size": 12},
         "encoding": {"y": {"field": "d", "type": "quantitative", "scale": {"domain": [0, 360], "nice": false}, "axis": {"title": "degrees", "values": [0,45,90,135,180,225,270,315,360]}}}},
        {"data": {"name": "dir"}, "mark": {"type": "square", "color": "#ff0000", "filled": true, "opacity": 0, "size": 12},
         "encoding": {"y": {"field": "d", "type": "quantitative", "axis": {"orient": "right", "title": null, "grid": false, "labelFontSize": 12, "values": [0,45,90,135,180,225,270,315,360], "labelExpr": "['N','NE','E','SE','S','SW','W','NW','N'][round(datum.value/45)]"}}}}
      ],
      "resolve": {"axis": {"y": "independent"}}
    },
    {
      "title": {"text": "Solar Irradiance", "offset": 9},
      "width": 424, "height": 137,
      "data": {"name": "solar"},
      "mark": {"type": "line", "color": "#ff0000", "strokeWidth": 1},
      "encoding": {
        "x": {"field": "t", "type": "quantitative", "scale": {"domain": [0, 24], "nice": false}, "axis": {"title": null, "values": [0,2,4,6,8,10,12,14,16,18,20,22,24]}},
        "y": {"field": "v", "type": "quantitative", "scale": {"domain": [0, 1300], "nice": false}, "axis": {"title": "W/m²", "format": "d", "values": [0,200,400,600,800,1000,1200]}}
      }
    },
    {
      "title": {"text": "Air Pressure", "offset": 3},
      "width": 424, "height": 137,
      "data": {"name": "press"},
      "mark": {"type": "line", "color": "#ff0000", "strokeWidth": 1},
      "encoding": {
        "x": {"field": "t", "type": "quantitative", "scale": {"domain": [0, 24], "nice": false}, "axis": {"title": null, "values": [0,2,4,6,8,10,12,14,16,18,20,22,24]}},
        "y": {"field": "v", "type": "quantitative", "scale": {"domain": [755.5, 761], "zero": false, "nice": false}, "axis": {"title": "millibars", "format": "d", "values": [756,757,758,759,760,761]}}
      }
    },
    {
      "title": {"text": "UV Index", "offset": 9},
      "width": 424, "height": 137,
      "data": {"name": "uv"},
      "mark": {"type": "line", "color": "#ff0000", "strokeWidth": 1},
      "encoding": {
        "x": {"field": "t", "type": "quantitative", "scale": {"domain": [0, 24], "nice": false}, "axis": {"title": "Local Time (hour)", "titleFontSize": 15.5, "titlePadding": 5, "values": [0,2,4,6,8,10,12,14,16,18,20,22,24]}},
        "y": {"field": "v", "type": "quantitative", "scale": {"domain": [0, 13], "nice": false}, "axis": {"title": "UV Index", "values": [0,2,4,6,8,10,12]}}
      }
    },
    {
      "title": {"text": "24 hour Accumulated Rainfall or Snow Melt", "offset": 3},
      "width": 424, "height": 137,
      "encoding": {"x": {"field": "t", "type": "quantitative", "scale": {"domain": [0, 24], "nice": false}, "axis": {"title": "Local Time (hour)", "titleFontSize": 15.5, "titlePadding": 5, "values": [0,2,4,6,8,10,12,14,16,18,20,22,24]}}},
      "layer": [
        {"data": {"name": "rain"}, "mark": {"type": "line", "color": "#ff0000", "strokeWidth": 1},
         "encoding": {"y": {"field": "v", "type": "quantitative", "scale": {"domain": [0, 0.1], "nice": false}, "axis": {"title": "Inches", "values": [0,0.01,0.02,0.03,0.04,0.05,0.06,0.07,0.08,0.09,0.1], "labelExpr": "datum.value == 0 ? '0.0' : format(datum.value, '.2~f')"}}}},
        {"data": {"name": "rain"}, "mark": {"type": "line", "color": "#ff0000", "strokeWidth": 1, "strokeOpacity": 0},
         "encoding": {"y": {"field": "v", "type": "quantitative", "axis": {"orient": "right", "title": null, "grid": false, "values": [0,0.01,0.02,0.03,0.04,0.05,0.06,0.07,0.08,0.09,0.1], "labelExpr": "datum.value == 0 ? '0.0' : format(datum.value, '.2~f')"}}}}
      ],
      "resolve": {"axis": {"y": "independent"}}
    }
  ],
  "config": {
    "font": "Liberation Sans",
    "view": {"stroke": "#444444", "strokeWidth": 1},
    "axis": {"domain": false, "ticks": false, "grid": true, "gridColor": "#8c8c8c", "gridOpacity": 1, "gridWidth": 1, "labelFont": "Liberation Sans", "labelFontSize": 11, "labelColor": "#222222", "labelPadding": 7, "titleFont": "Liberation Sans", "titleFontSize": 14, "titleFontWeight": "normal", "titleColor": "#000000", "titlePadding": 6},
    "axisX": {"labelPadding": 5},
    "title": {"font": "Liberation Sans", "fontSize": 15.5, "fontWeight": "normal", "color": "#000000"}
  }
}
